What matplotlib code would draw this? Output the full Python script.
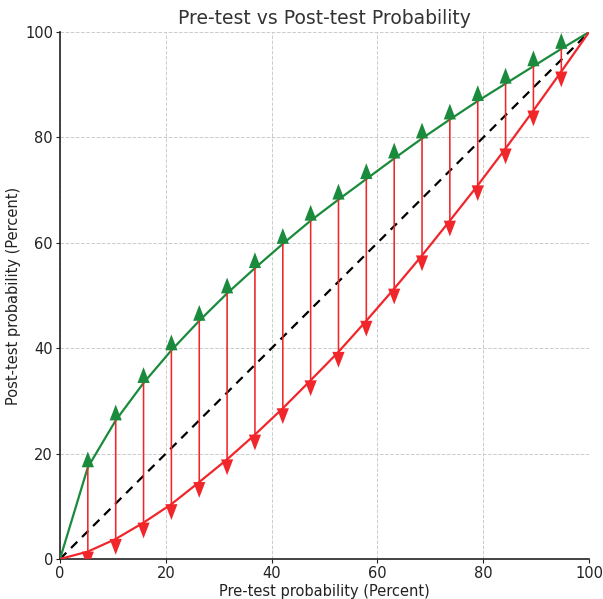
import matplotlib
matplotlib.use("Agg")
import matplotlib.pyplot as plt

pre_test = [0, 5.26, 10.53, 15.79, 21.05, 26.32, 31.58, 36.84, 42.11, 47.37,
            52.63, 57.89, 63.16, 68.42, 73.68, 78.95, 84.21, 89.47, 94.74, 100]
post_positive = [0, 17.4, 26.3, 33.4, 39.6, 45.2, 50.4, 55.2, 59.8, 64.2,
                 68.2, 72.1, 76.0, 79.8, 83.4, 86.9, 90.2, 93.5, 96.8, 100]
post_negative = [0, 1.4, 3.8, 6.9, 10.4, 14.6, 18.9, 23.6, 28.6, 33.9,
                 39.3, 45.2, 51.3, 57.6, 64.2, 70.9, 77.9, 85.1, 92.5, 100]

title = "Pre-test vs Post-test Probability"
xlabel = "Pre-test probability (Percent)"
ylabel = "Post-test probability (Percent)"

GREEN = "#1a8a3c"
RED = "#f0262b"
TXT = "#333333"

fig = plt.figure(figsize=(6.03, 5.99), dpi=100)
ax = fig.add_axes([0.0995, 0.0668, 0.8775, 0.8798])

ax.plot([0, 100], [0, 100], linestyle=(0, (4, 3)), color="black", lw=1.6, zorder=3)
ax.plot(pre_test, post_positive, color=GREEN, lw=1.6, zorder=3)
ax.plot(pre_test, post_negative, color=RED, lw=1.6, zorder=3)

for x, p, n, in zip(pre_test, post_positive, post_negative):
    if p - x > 0.5:
        ax.arrow(x, x, 0, p - x, width=0.05, head_width=2.3, head_length=3.0,
                 color=GREEN, lw=0, zorder=4)
    if p - n > 0.5:
        ax.arrow(x, p, 0, n - p, width=0.3, head_width=2.3, head_length=3.0,
                 color=RED, lw=0, zorder=5)

ax.set_xlim(0, 100)
ax.set_ylim(0, 100)
ax.set_xticks([0, 20, 40, 60, 80, 100])
ax.set_yticks([0, 20, 40, 60, 80, 100])
ax.grid(True, linestyle="--", color="#cccccc", lw=0.7)
ax.set_axisbelow(True)
for s in ["top", "right"]:
    ax.spines[s].set_visible(False)
for s in ["left", "bottom"]:
    ax.spines[s].set_color("#222222")
    ax.spines[s].set_linewidth(1.2)
ax.tick_params(labelsize=10.5, length=3, pad=2, colors="#222222", labelcolor="#222222")

ax.set_title(title, fontsize=13.5, color=TXT, pad=6)
ax.set_xlabel(xlabel, fontsize=10.5, color="#222222", labelpad=2)
ax.set_ylabel(ylabel, fontsize=10.5, color="#222222", labelpad=3)

fig.savefig("out.png", dpi=100)
